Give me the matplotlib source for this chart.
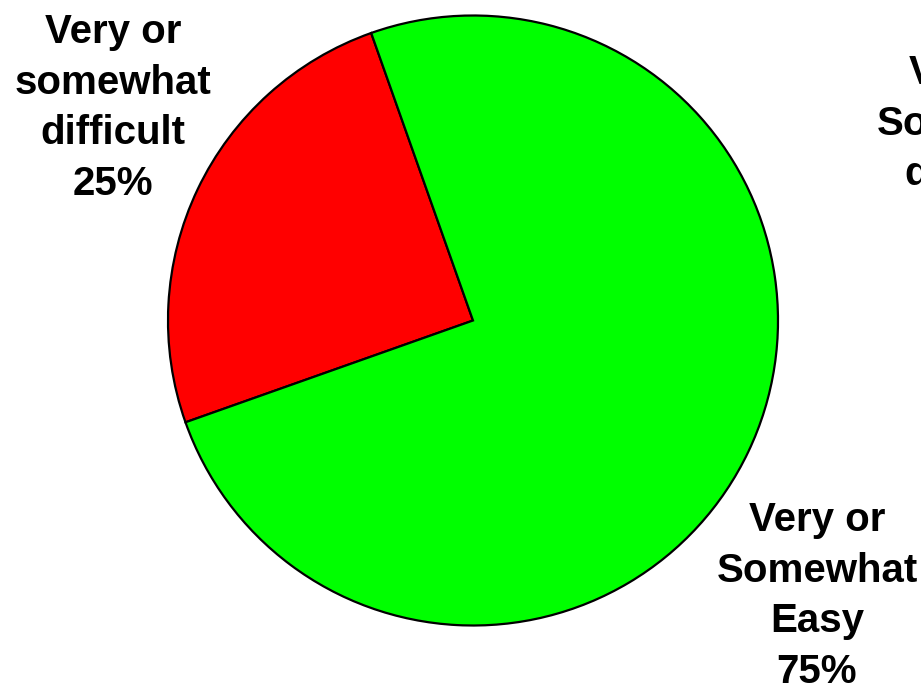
import matplotlib
matplotlib.use('Agg')
import matplotlib.pyplot as plt

plt.rcParams['font.family'] = ['Liberation Sans', 'DejaVu Sans']

# dados do gráfico
categorias = ['Very or\nsomewhat\ndifficult', 'Very or\nSomewhat\nEasy', 'Very or\nSomewhat\ndifficult']
valores = [25, 75, 0]
cores = ['#FF0000', '#00FF00', '#FFFFFF']

# posições dos rótulos em pixels (x, y a partir do topo)
pos_rotulos = [(113, 108), (817, 596), (977, 149)]

W, H = 921, 691
fig = plt.figure(figsize=(W / 100, H / 100), dpi=100)
ax = fig.add_axes([0, 0, 1, 1])

centro = (473, H - 320.5)
raio = 305

fatias = [v for v in valores if v > 0]
ax.pie(fatias, colors=cores[:len(fatias)], startangle=109.5, counterclock=True,
       center=centro, radius=raio, frame=True,
       wedgeprops={'edgecolor': 'black', 'linewidth': 1.6})
ax.set_xlim(0, W)
ax.set_ylim(0, H)
ax.axis('off')

for nome, v, (px, py) in zip(categorias, valores, pos_rotulos):
    ax.text(px, H - py, f'{nome}\n{v}%', ha='center', va='center',
            fontsize=29, fontweight='bold', linespacing=1.42, clip_on=False)

fig.savefig('out.png', dpi=100)
plt.close()
